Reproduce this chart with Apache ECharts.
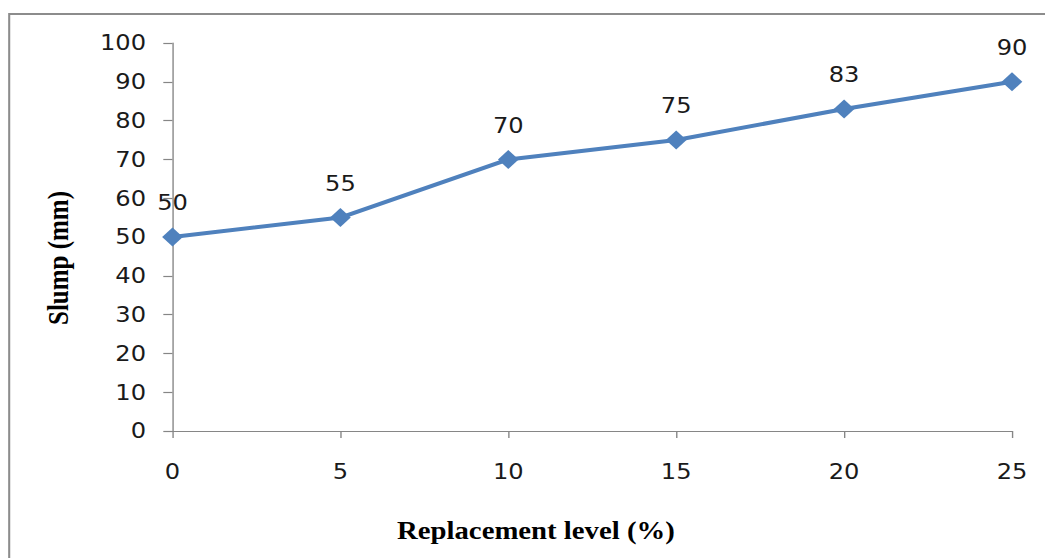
<!DOCTYPE html>
<html>
<head>
<meta charset="utf-8">
<script src="https://cdn.jsdelivr.net/npm/echarts@6/dist/echarts.min.js"></script>
<style>
  html, body { margin: 0; padding: 0; background: #fff; overflow: hidden; }
  #wrap { width: 1045px; height: 558px; overflow: hidden; position: relative; }
  #chart { width: 909px; height: 558px; transform: scaleX(1.15); transform-origin: 0 0; }
</style>
</head>
<body>
<div id="wrap"><div id="chart"></div></div>
<script>
// Data
const replacementLevels = [0, 5, 10, 15, 20, 25];
const slumpValues = [50, 55, 70, 75, 83, 90];
const xTicks = [0, 5, 10, 15, 20, 25];
const yTicks = [0, 10, 20, 30, 40, 50, 60, 70, 80, 90, 100];
const xTitle = 'Replacement level (%)';
const yTitle = 'Slump (mm)';

const chart = echarts.init(document.getElementById('chart'), null, { renderer: 'svg' });
const axisGray = '#868686';
const textColor = '#1a1a1a';

chart.setOption({
  animation: false,
  backgroundColor: '#ffffff',
  grid: { left: 150, right: 29, top: 43, bottom: 127 },
  xAxis: {
    type: 'value',
    min: xTicks[0],
    max: xTicks[xTicks.length - 1],
    interval: 5,
    splitLine: { show: false },
    axisLine: { show: true, lineStyle: { color: axisGray, width: 1.2 } },
    axisTick: { show: true, length: 7, inside: false, lineStyle: { color: axisGray, width: 1.2 } },
    axisLabel: { margin: 30, fontFamily: 'DejaVu Sans', fontSize: 21, color: textColor }
  },
  yAxis: {
    type: 'value',
    min: yTicks[0],
    max: yTicks[yTicks.length - 1],
    interval: 10,
    splitLine: { show: false },
    axisLine: { show: true, lineStyle: { color: axisGray, width: 1.2 } },
    axisTick: { show: true, length: 8, inside: false, lineStyle: { color: axisGray, width: 1.2 } },
    axisLabel: { margin: 23, fontFamily: 'DejaVu Sans', fontSize: 21, color: textColor }
  },
  graphic: [
    {
      type: 'rect',
      shape: { x: 8, y: 14, width: 1200, height: 800 },
      style: { fill: 'none', stroke: '#8c8c8c', lineWidth: 1.8 },
      silent: true,
      z: -1
    },
    {
      type: 'text',
      x: 466, y: 531,
      style: {
        text: xTitle,
        fontFamily: 'Liberation Serif',
        fontWeight: 'bold',
        fontSize: 25,
        fill: '#000',
        textAlign: 'center',
        textVerticalAlign: 'middle'
      }
    },
    {
      type: 'text',
      x: 51, y: 258,
      rotation: Math.PI / 2,
      style: {
        text: yTitle,
        fontFamily: 'Liberation Serif',
        fontWeight: 'bold',
        fontSize: 25,
        fill: '#000',
        textAlign: 'center',
        textVerticalAlign: 'middle'
      }
    }
  ],
  series: [{
    type: 'line',
    data: replacementLevels.map((x, i) => [x, slumpValues[i]]),
    symbol: 'diamond',
    symbolSize: [18, 19],
    showAllSymbol: true,
    clip: false,
    lineStyle: { color: '#4F81BD', width: 4 },
    itemStyle: { color: '#4F81BD' },
    label: {
      show: true,
      position: 'top',
      distance: 14,
      fontFamily: 'DejaVu Sans',
      fontSize: 21,
      color: textColor,
      formatter: p => String(p.value[1])
    }
  }]
});
</script>
</body>
</html>
